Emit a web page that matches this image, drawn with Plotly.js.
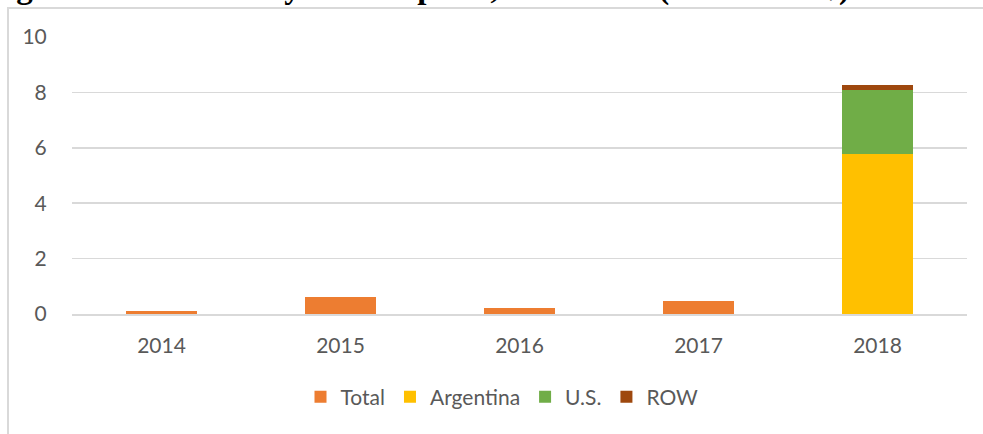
<!DOCTYPE html>
<html>
<head>
<meta charset="utf-8">
<script src="https://cdn.plot.ly/plotly-3.0.1.min.js"></script>
<style>html,body{margin:0;padding:0;background:#fff;}#chart{width:983px;height:434px;}</style>
</head>
<body>
<div id="chart"></div>
<script>
const years = ["2014", "2015", "2016", "2017", "2018"];
const totalVals = [0.1, 0.61, 0.2, 0.48, null];
const argentinaVals = [null, null, null, null, 5.79];
const usVals = [null, null, null, null, 2.29];
const rowVals = [null, null, null, null, 0.18];
const yTicks = [0, 2, 4, 6, 8, 10];
const titleText = "Figure 6: Ghana's Soybean Imports, 2014-2018 (Million US$)";

const W = 983, H = 434;
const M = {l: 72, r: 16, t: 37, b: 120};
const pw = W - M.l - M.r, ph = H - M.t - M.b;
const px = x => (x - M.l) / pw;
const py = y => 1 - (y - M.t) / ph;

const traces = [
  {name: "Total", x: years, y: totalVals, type: "bar", marker: {color: "#ED7D31"}},
  {name: "Argentina", x: years, y: argentinaVals, type: "bar", marker: {color: "#FFC000"}},
  {name: "U.S.", x: years, y: usVals, type: "bar", marker: {color: "#70AD47"}},
  {name: "ROW", x: years, y: rowVals, type: "bar", marker: {color: "#9E480E"}}
];

const layout = {
  width: W, height: H,
  margin: M,
  barmode: "stack",
  bargap: 0.6,
  paper_bgcolor: "#fff",
  plot_bgcolor: "#fff",
  font: {family: "Lato, 'Open Sans', sans-serif", size: 21, color: "#595959"},
  xaxis: {
    type: "category",
    showgrid: false,
    showline: true, linecolor: "#d9d9d9", linewidth: 1.5,
    ticks: "outside", ticklen: 12, tickcolor: "rgba(0,0,0,0)",
    tickfont: {size: 21, color: "#595959"}
  },
  yaxis: {
    range: [0, 10],
    tickvals: yTicks,
    showgrid: true, gridcolor: "#d9d9d9", gridwidth: 1.5,
    zeroline: false, showline: false,
    ticks: "outside", ticklen: 20, tickcolor: "rgba(0,0,0,0)",
    tickfont: {size: 21, color: "#595959"}
  },
  legend: {
    orientation: "h",
    x: px(502), xanchor: "center",
    y: py(397), yanchor: "middle",
    font: {size: 21, color: "#595959"},
    traceorder: "normal"
  },
  showlegend: true,
  shapes: [
    {type: "rect", xref: "paper", yref: "paper",
     x0: px(8), x1: px(1000), y0: py(470), y1: py(8),
     line: {color: "#d9d9d9", width: 2}, fillcolor: "rgba(0,0,0,0)", layer: "below"}
  ],
  annotations: [
    {text: "<b>" + titleText + "</b>", xref: "paper", yref: "paper",
     x: px(852), xanchor: "right", y: py(-12), yanchor: "middle",
     showarrow: false,
     font: {family: "'Liberation Serif', 'Times New Roman', serif", size: 33, color: "#000"}}
  ]
};

Plotly.newPlot("chart", traces, layout, {displayModeBar: false, staticPlot: true});
</script>
</body>
</html>
